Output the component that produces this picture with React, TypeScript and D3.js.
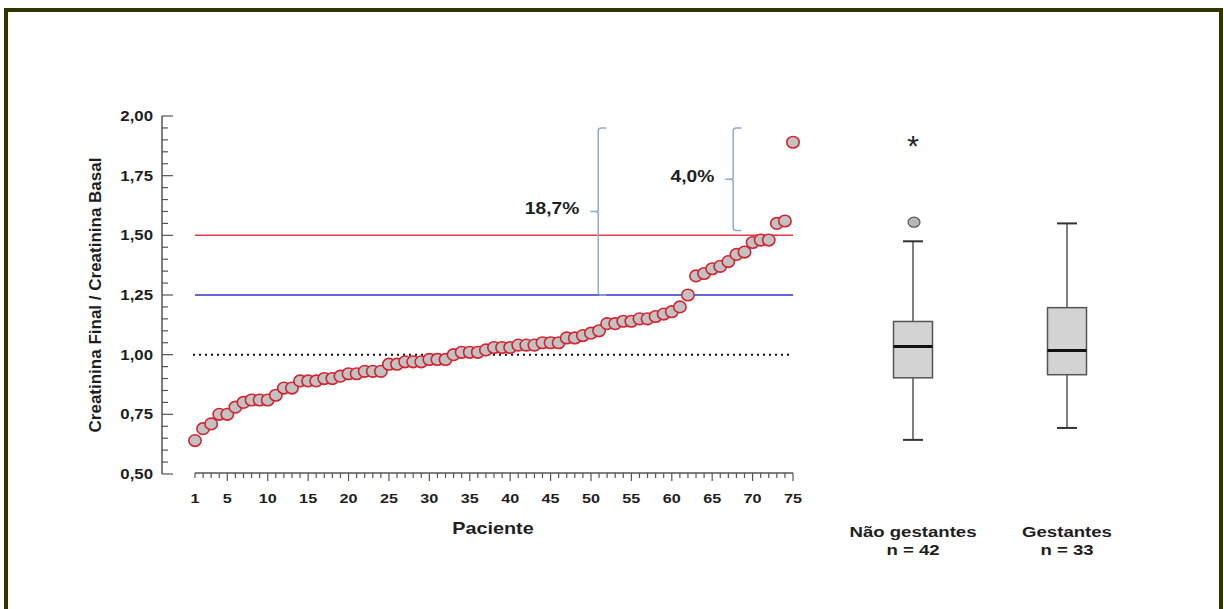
import React from "react";
import * as d3 from "d3";

// ---- data ----
const patients: number[] = d3.range(1, 76);
const ratios: number[] = [
  0.64, 0.69, 0.71, 0.75, 0.75, 0.78, 0.80, 0.81, 0.81, 0.81,
  0.83, 0.86, 0.86, 0.89, 0.89, 0.89, 0.90, 0.90, 0.91, 0.92,
  0.92, 0.93, 0.93, 0.93, 0.96, 0.96, 0.97, 0.97, 0.97, 0.98,
  0.98, 0.98, 1.00, 1.01, 1.01, 1.01, 1.02, 1.03, 1.03, 1.03,
  1.04, 1.04, 1.04, 1.05, 1.05, 1.05, 1.07, 1.07, 1.08, 1.09,
  1.10, 1.13, 1.13, 1.14, 1.14, 1.15, 1.15, 1.16, 1.17, 1.18,
  1.20, 1.25, 1.33, 1.34, 1.36, 1.37, 1.39, 1.42, 1.43, 1.47,
  1.48, 1.48, 1.55, 1.56, 1.89,
];
const yTicks: number[] = [0.5, 0.75, 1.0, 1.25, 1.5, 1.75, 2.0];
const xTickLabels: number[] = [1, 5, 10, 15, 20, 25, 30, 35, 40, 45, 50, 55, 60, 65, 70, 75];

const groups: string[] = ["Não gestantes", "Gestantes"];
const groupN: number[] = [42, 33];
const boxQ1: number[] = [0.903, 0.916];
const boxMedian: number[] = [1.034, 1.017];
const boxQ3: number[] = [1.139, 1.197];
const whiskerLo: number[] = [0.643, 0.693];
const whiskerHi: number[] = [1.475, 1.55];
const outliers: number[][] = [[1.555], []];
const extremes: number[][] = [[1.887], []];

const refBasal = 1.0;
const refBlue = 1.25;
const refRed = 1.5;

// braces: label, patient x, bottom value, top value
const braceLabels: string[] = ["18,7%", "4,0%"];
const braceX: number[] = [50.9, 67.6];
const braceLo: number[] = [1.25, 1.52];
const braceHi: number[] = [1.95, 1.95];

const FONT = "'Liberation Sans', Arial, sans-serif";
const SX = 1.2; // horizontal stretch of the original picture's lettering

type TProps = {
  x: number;
  y: number;
  size: number;
  anchor?: "start" | "middle" | "end";
  children: React.ReactNode;
};
function SText({ x, y, size, anchor = "middle", children }: TProps) {
  return (
    <text
      transform={`translate(${x},${y}) scale(${SX},1)`}
      textAnchor={anchor}
      dominantBaseline="central"
      fontSize={size}
      fontWeight="bold"
      fill="#1e1e1e"
    >
      {children}
    </text>
  );
}

export default function App() {
  const W = 1224;
  const H = 609;
  const y = d3.scaleLinear().domain([0.5, 2.0]).range([474, 116]);
  const x = d3.scaleLinear().domain([1, 75]).range([195, 793]);
  const gx = d3.scalePoint<string>().domain(groups).range([913, 1067]);
  const axisX = 162;
  const xAxisY = 473;

  const yMinor = d3.range(0.5, 2.0001, 0.05);
  const boxW = 39;
  const capW = 20;

  const bracePath = (bx: number, lo: number, hi: number) => {
    const top = y(hi);
    const bot = y(lo);
    const mid = (top + bot) / 2;
    const h = 8;
    const r = 3;
    return `M${bx + h},${top} L${bx + r},${top} Q${bx},${top} ${bx},${top + r} L${bx},${mid - 2} Q${bx},${mid} ${bx - 3},${mid} L${bx - h},${mid} M${bx - 3},${mid} Q${bx},${mid} ${bx},${mid + 2} L${bx},${bot - r} Q${bx},${bot} ${bx + r},${bot} L${bx + h},${bot}`;
  };

  return (
    <svg
      width={W}
      height={H}
      style={{ position: "absolute", left: 0, top: 0, background: "#fff" }}
      fontFamily={FONT}
    >
      {/* frame */}
      <path d={`M6,${H} L6,10 L1221,10 L1221,${H}`} fill="none" stroke="#333300" strokeWidth={4} />

      {/* y axis */}
      <line x1={axisX} x2={axisX} y1={y(2.0)} y2={y(0.5)} stroke="#555" strokeWidth={1.5} />
      {yMinor.map((v, i) => (
        <line
          key={"ym" + i}
          x1={axisX}
          x2={axisX + (i % 5 === 0 ? 11 : 6)}
          y1={y(v)}
          y2={y(v)}
          stroke="#555"
          strokeWidth={1.2}
        />
      ))}
      {yTicks.map((v) => (
        <SText key={"yt" + v} x={153} y={y(v)} size={14} anchor="end">
          {d3.format(".2f")(v).replace(".", ",")}
        </SText>
      ))}
      <text
        transform={`translate(95,${(y(2.0) + y(0.5)) / 2}) rotate(-90)`}
        textAnchor="middle"
        dominantBaseline="central"
        fontSize={17}
        fontWeight="bold"
        fill="#1e1e1e"
      >
        Creatinina Final / Creatinina Basal
      </text>

      {/* x axis */}
      <line x1={x(1)} x2={x(75)} y1={xAxisY} y2={xAxisY} stroke="#555" strokeWidth={1.5} />
      {patients.map((p) => (
        <line
          key={"xm" + p}
          x1={x(p)}
          x2={x(p)}
          y1={xAxisY}
          y2={xAxisY + (p % 5 === 0 ? 8 : 5)}
          stroke="#555"
          strokeWidth={1.2}
        />
      ))}
      {xTickLabels.map((p) => (
        <SText key={"xt" + p} x={x(p)} y={498} size={13.5}>
          {p}
        </SText>
      ))}
      <SText x={493} y={529} size={16.5}>
        Paciente
      </SText>

      {/* reference lines */}
      <line x1={193} x2={793} y1={y(refBasal)} y2={y(refBasal)} stroke="#111" strokeWidth={2} strokeDasharray="2 4" />
      <line x1={195} x2={793} y1={y(refRed)} y2={y(refRed)} stroke="#e03a52" strokeWidth={1.5} />
      <line x1={195} x2={793} y1={y(refBlue)} y2={y(refBlue)} stroke="#3333cc" strokeWidth={1.5} />

      {/* braces */}
      {braceLabels.map((lab, i) => {
        const bx = x(braceX[i]);
        const mid = (y(braceLo[i]) + y(braceHi[i])) / 2;
        return (
          <g key={"br" + i}>
            <path d={bracePath(bx, braceLo[i], braceHi[i])} fill="none" stroke="#8fa9d6" strokeWidth={1.5} />
            <SText x={bx - 19} y={mid - 3} size={16} anchor="end">
              {lab}
            </SText>
          </g>
        );
      })}

      {/* points */}
      {ratios.map((v, i) => (
        <ellipse
          key={"pt" + i}
          cx={x(patients[i])}
          cy={y(v)}
          rx={6.2}
          ry={5.8}
          fill="#c2c2c2"
          stroke="#d42230"
          strokeWidth={1.6}
        />
      ))}

      {/* box plots */}
      {groups.map((g, i) => {
        const cx = gx(g) as number;
        return (
          <g key={"bx" + i}>
            <line x1={cx} x2={cx} y1={y(whiskerHi[i])} y2={y(boxQ3[i])} stroke="#555" strokeWidth={1.5} />
            <line x1={cx} x2={cx} y1={y(boxQ1[i])} y2={y(whiskerLo[i])} stroke="#555" strokeWidth={1.5} />
            <line x1={cx - capW / 2} x2={cx + capW / 2} y1={y(whiskerHi[i])} y2={y(whiskerHi[i])} stroke="#333" strokeWidth={2} />
            <line x1={cx - capW / 2} x2={cx + capW / 2} y1={y(whiskerLo[i])} y2={y(whiskerLo[i])} stroke="#333" strokeWidth={2} />
            <rect
              x={cx - boxW / 2}
              y={y(boxQ3[i])}
              width={boxW}
              height={y(boxQ1[i]) - y(boxQ3[i])}
              fill="#d3d3d3"
              stroke="#555"
              strokeWidth={1.5}
            />
            <line x1={cx - boxW / 2} x2={cx + boxW / 2} y1={y(boxMedian[i])} y2={y(boxMedian[i])} stroke="#111" strokeWidth={3} />
            {outliers[i].map((o, j) => (
              <ellipse key={"o" + j} cx={cx + 1} cy={y(o)} rx={6} ry={5} fill="#b8b8b8" stroke="#555" strokeWidth={1.2} />
            ))}
            {extremes[i].map((o, j) => (
              <text key={"e" + j} x={cx} y={y(o) + 13} textAnchor="middle" fontSize={30} fill="#222">
                *
              </text>
            ))}
            <SText x={cx} y={532} size={15.5}>
              {g}
            </SText>
            <SText x={cx} y={550} size={15.5}>
              {`n = ${groupN[i]}`}
            </SText>
          </g>
        );
      })}
    </svg>
  );
}
